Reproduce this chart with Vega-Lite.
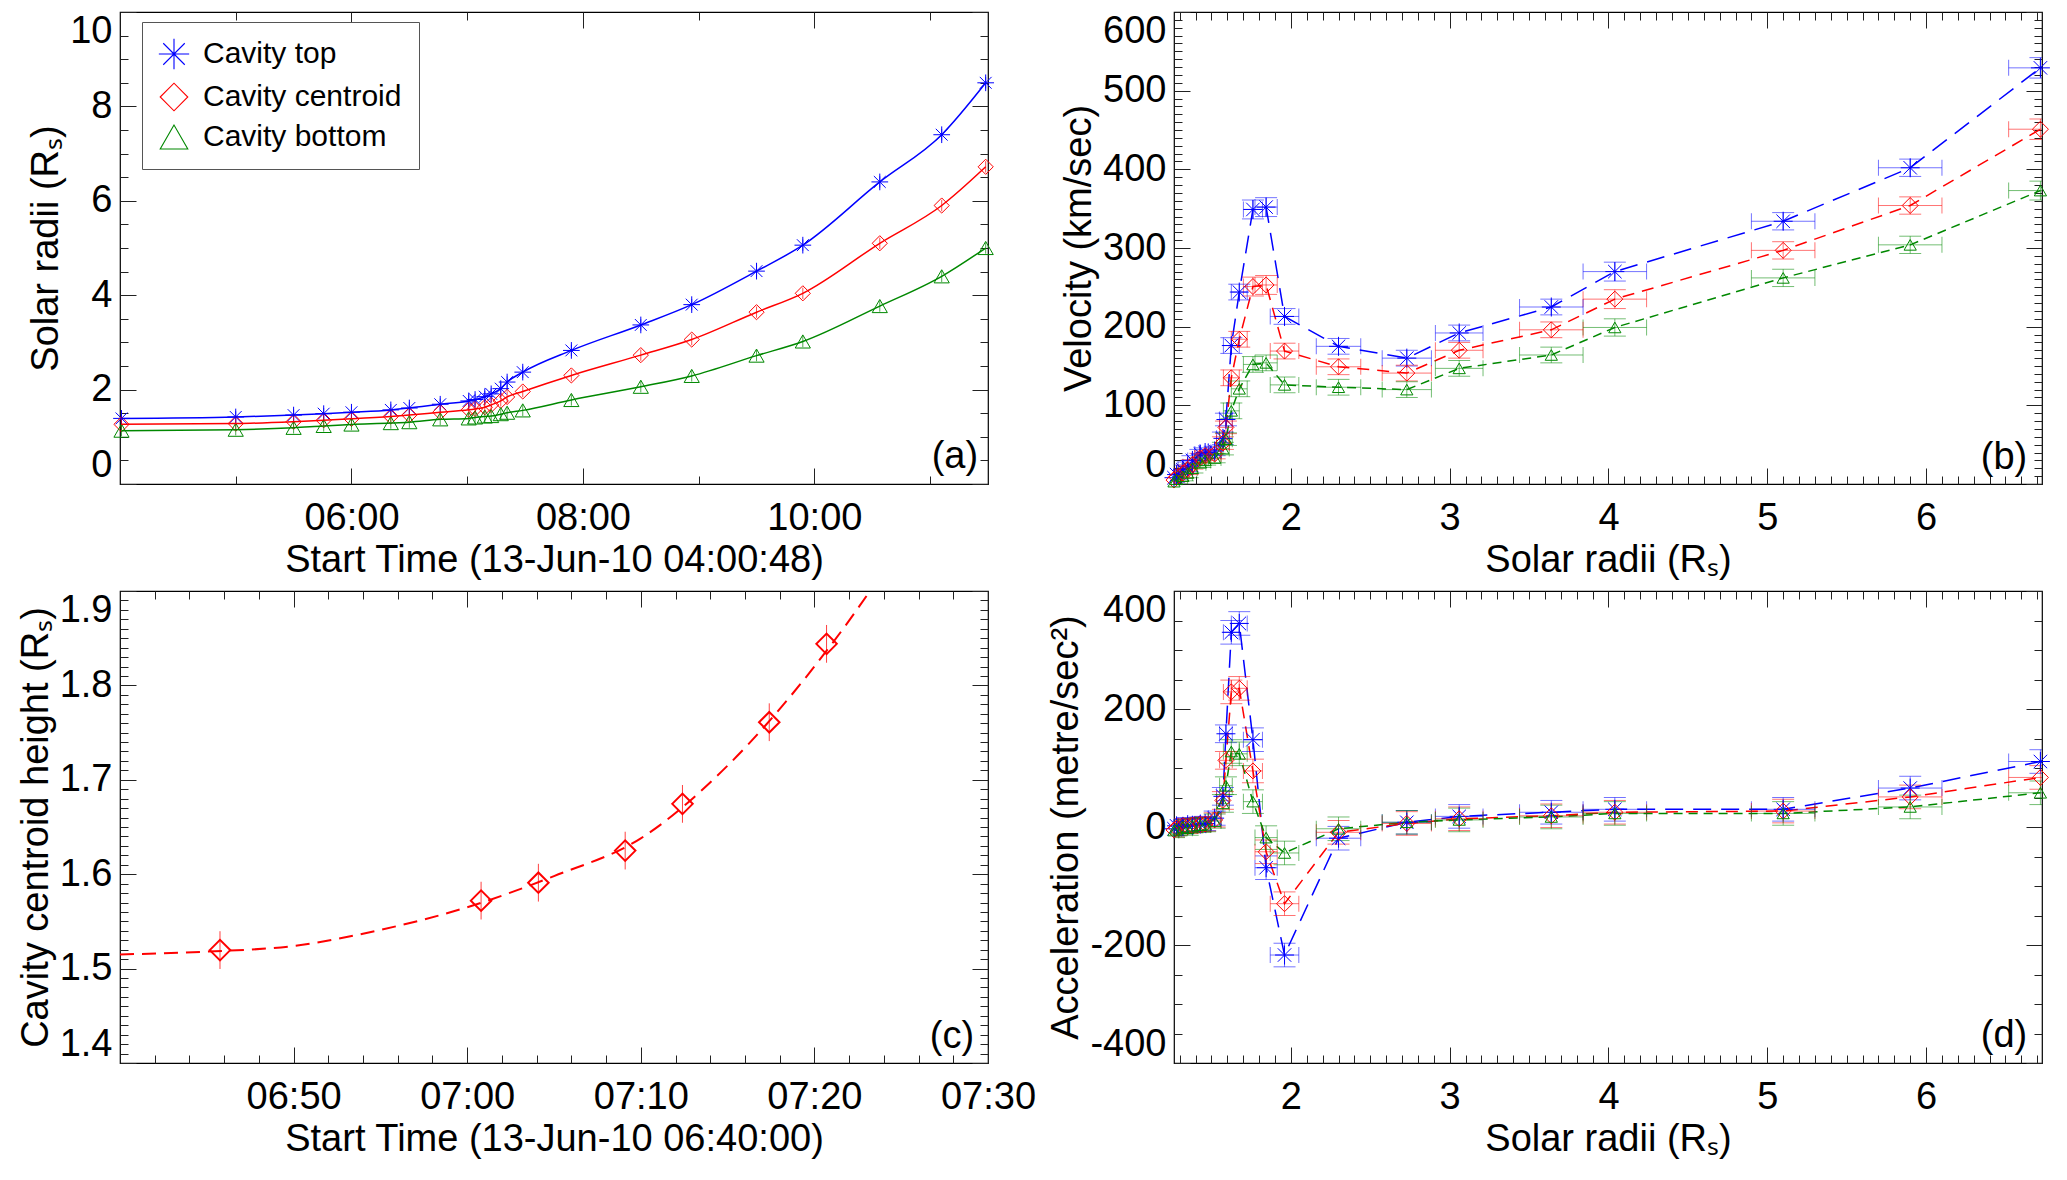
{
 "$schema": "https://vega.github.io/schema/vega-lite/v6.json",
 "background": "white",
 "padding": {"left": 16, "top": 10, "right": 0, "bottom": 0},
 "columns": 2,
 "spacing": {"row": 107, "column": 186},
 "bounds": "flush",
 "resolve": {
  "scale": {"color": "independent", "shape": "independent", "strokeDash": "independent", "size": "independent"},
  "legend": {"color": "independent", "shape": "independent", "strokeDash": "independent", "size": "independent"}
 },
 "datasets": {
  "A": [
   {"s":"Cavity top","t":4.013,"h":1.39,"e":0.12},{"s":"Cavity top","t":5.0,"h":1.42,"e":0.12},{"s":"Cavity top","t":5.5,"h":1.46,"e":0.12},{"s":"Cavity top","t":5.76,"h":1.49,"e":0.12},{"s":"Cavity top","t":6.0,"h":1.52,"e":0.12},{"s":"Cavity top","t":6.34,"h":1.57,"e":0.12},{"s":"Cavity top","t":6.5,"h":1.61,"e":0.12},{"s":"Cavity top","t":6.767,"h":1.69,"e":0.12},{"s":"Cavity top","t":7.013,"h":1.76,"e":0.12},{"s":"Cavity top","t":7.068,"h":1.79,"e":0.12},{"s":"Cavity top","t":7.152,"h":1.85,"e":0.12},{"s":"Cavity top","t":7.207,"h":1.91,"e":0.12},{"s":"Cavity top","t":7.29,"h":2.02,"e":0.12},{"s":"Cavity top","t":7.345,"h":2.16,"e":0.12},{"s":"Cavity top","t":7.48,"h":2.37,"e":0.12},{"s":"Cavity top","t":7.9,"h":2.83,"e":0.12},{"s":"Cavity top","t":8.5,"h":3.37,"e":0.12},{"s":"Cavity top","t":8.94,"h":3.8,"e":0.12},{"s":"Cavity top","t":9.5,"h":4.51,"e":0.12},{"s":"Cavity top","t":9.9,"h":5.06,"e":0.12},{"s":"Cavity top","t":10.565,"h":6.4,"e":0.12},{"s":"Cavity top","t":11.1,"h":7.4,"e":0.12},{"s":"Cavity top","t":11.48,"h":8.5,"e":0.12},
   {"s":"Cavity centroid","t":4.013,"h":1.264,"e":0.12},{"s":"Cavity centroid","t":5.0,"h":1.28,"e":0.12},{"s":"Cavity centroid","t":5.5,"h":1.32,"e":0.12},{"s":"Cavity centroid","t":5.76,"h":1.35,"e":0.12},{"s":"Cavity centroid","t":6.0,"h":1.38,"e":0.12},{"s":"Cavity centroid","t":6.34,"h":1.43,"e":0.12},{"s":"Cavity centroid","t":6.5,"h":1.46,"e":0.12},{"s":"Cavity centroid","t":6.767,"h":1.52,"e":0.12},{"s":"Cavity centroid","t":7.013,"h":1.572,"e":0.12},{"s":"Cavity centroid","t":7.068,"h":1.591,"e":0.12},{"s":"Cavity centroid","t":7.152,"h":1.625,"e":0.12},{"s":"Cavity centroid","t":7.207,"h":1.675,"e":0.12},{"s":"Cavity centroid","t":7.29,"h":1.761,"e":0.12},{"s":"Cavity centroid","t":7.345,"h":1.844,"e":0.12},{"s":"Cavity centroid","t":7.48,"h":1.96,"e":0.12},{"s":"Cavity centroid","t":7.9,"h":2.3,"e":0.12},{"s":"Cavity centroid","t":8.5,"h":2.73,"e":0.12},{"s":"Cavity centroid","t":8.94,"h":3.06,"e":0.12},{"s":"Cavity centroid","t":9.5,"h":3.64,"e":0.12},{"s":"Cavity centroid","t":9.9,"h":4.04,"e":0.12},{"s":"Cavity centroid","t":10.565,"h":5.1,"e":0.12},{"s":"Cavity centroid","t":11.1,"h":5.9,"e":0.12},{"s":"Cavity centroid","t":11.48,"h":6.72,"e":0.12},
   {"s":"Cavity bottom","t":4.013,"h":1.13,"e":0.12},{"s":"Cavity bottom","t":5.0,"h":1.15,"e":0.12},{"s":"Cavity bottom","t":5.5,"h":1.19,"e":0.12},{"s":"Cavity bottom","t":5.76,"h":1.23,"e":0.12},{"s":"Cavity bottom","t":6.0,"h":1.26,"e":0.12},{"s":"Cavity bottom","t":6.34,"h":1.29,"e":0.12},{"s":"Cavity bottom","t":6.5,"h":1.31,"e":0.12},{"s":"Cavity bottom","t":6.767,"h":1.37,"e":0.12},{"s":"Cavity bottom","t":7.013,"h":1.39,"e":0.12},{"s":"Cavity bottom","t":7.068,"h":1.41,"e":0.12},{"s":"Cavity bottom","t":7.152,"h":1.43,"e":0.12},{"s":"Cavity bottom","t":7.207,"h":1.44,"e":0.12},{"s":"Cavity bottom","t":7.29,"h":1.48,"e":0.12},{"s":"Cavity bottom","t":7.345,"h":1.51,"e":0.12},{"s":"Cavity bottom","t":7.48,"h":1.56,"e":0.12},{"s":"Cavity bottom","t":7.9,"h":1.78,"e":0.12},{"s":"Cavity bottom","t":8.5,"h":2.06,"e":0.12},{"s":"Cavity bottom","t":8.94,"h":2.29,"e":0.12},{"s":"Cavity bottom","t":9.5,"h":2.72,"e":0.12},{"s":"Cavity bottom","t":9.9,"h":3.02,"e":0.12},{"s":"Cavity bottom","t":10.565,"h":3.77,"e":0.12},{"s":"Cavity bottom","t":11.1,"h":4.4,"e":0.12},{"s":"Cavity bottom","t":11.48,"h":5.0,"e":0.12}
  ],
  "BD": [
   {"s":"Cavity top","r":1.264,"xe":0.03,"v":8,"ve":6,"a":-3,"ae":12},{"s":"Cavity top","r":1.28,"xe":0.03,"v":12,"ve":6,"a":2,"ae":12},{"s":"Cavity top","r":1.32,"xe":0.03,"v":18,"ve":6,"a":1,"ae":12},{"s":"Cavity top","r":1.35,"xe":0.03,"v":22,"ve":6,"a":4,"ae":12},{"s":"Cavity top","r":1.38,"xe":0.03,"v":30,"ve":6,"a":3,"ae":12},{"s":"Cavity top","r":1.43,"xe":0.035,"v":38,"ve":6,"a":5,"ae":12},{"s":"Cavity top","r":1.46,"xe":0.035,"v":40,"ve":6,"a":6,"ae":12},{"s":"Cavity top","r":1.52,"xe":0.04,"v":42,"ve":6,"a":15,"ae":12},{"s":"Cavity top","r":1.572,"xe":0.04,"v":58,"ve":8,"a":52,"ae":15},{"s":"Cavity top","r":1.591,"xe":0.04,"v":82,"ve":8,"a":158,"ae":15},{"s":"Cavity top","r":1.625,"xe":0.05,"v":176,"ve":10,"a":330,"ae":20},{"s":"Cavity top","r":1.675,"xe":0.05,"v":244,"ve":10,"a":345,"ae":20},{"s":"Cavity top","r":1.761,"xe":0.06,"v":349,"ve":12,"a":148,"ae":20},{"s":"Cavity top","r":1.844,"xe":0.07,"v":352,"ve":12,"a":-69,"ae":20},{"s":"Cavity top","r":1.96,"xe":0.09,"v":213,"ve":10,"a":-217,"ae":20},{"s":"Cavity top","r":2.3,"xe":0.14,"v":175,"ve":10,"a":-19,"ae":20},{"s":"Cavity top","r":2.73,"xe":0.155,"v":160,"ve":10,"a":8,"ae":20},{"s":"Cavity top","r":3.06,"xe":0.15,"v":192,"ve":10,"a":18,"ae":20},{"s":"Cavity top","r":3.64,"xe":0.2,"v":225,"ve":10,"a":25,"ae":20},{"s":"Cavity top","r":4.04,"xe":0.2,"v":270,"ve":12,"a":30,"ae":20},{"s":"Cavity top","r":5.1,"xe":0.2,"v":334,"ve":11,"a":30,"ae":20},{"s":"Cavity top","r":5.9,"xe":0.2,"v":402,"ve":11,"a":66,"ae":20},{"s":"Cavity top","r":6.72,"xe":0.2,"v":529,"ve":13,"a":111,"ae":20},
   {"s":"Cavity centroid","r":1.264,"xe":0.03,"v":5,"ve":6,"a":-5,"ae":12},{"s":"Cavity centroid","r":1.28,"xe":0.03,"v":9,"ve":6,"a":-2,"ae":12},{"s":"Cavity centroid","r":1.32,"xe":0.03,"v":14,"ve":6,"a":2,"ae":12},{"s":"Cavity centroid","r":1.35,"xe":0.03,"v":18,"ve":6,"a":1,"ae":12},{"s":"Cavity centroid","r":1.38,"xe":0.03,"v":25,"ve":6,"a":3,"ae":12},{"s":"Cavity centroid","r":1.43,"xe":0.035,"v":33,"ve":6,"a":4,"ae":12},{"s":"Cavity centroid","r":1.46,"xe":0.035,"v":36,"ve":6,"a":5,"ae":12},{"s":"Cavity centroid","r":1.52,"xe":0.04,"v":38,"ve":6,"a":12,"ae":12},{"s":"Cavity centroid","r":1.572,"xe":0.04,"v":52,"ve":8,"a":45,"ae":15},{"s":"Cavity centroid","r":1.591,"xe":0.04,"v":72,"ve":8,"a":113,"ae":15},{"s":"Cavity centroid","r":1.625,"xe":0.05,"v":135,"ve":10,"a":229,"ae":20},{"s":"Cavity centroid","r":1.675,"xe":0.05,"v":184,"ve":10,"a":235,"ae":20},{"s":"Cavity centroid","r":1.761,"xe":0.06,"v":251,"ve":12,"a":95,"ae":20},{"s":"Cavity centroid","r":1.844,"xe":0.07,"v":253,"ve":12,"a":-42,"ae":20},{"s":"Cavity centroid","r":1.96,"xe":0.09,"v":169,"ve":10,"a":-130,"ae":20},{"s":"Cavity centroid","r":2.3,"xe":0.14,"v":149,"ve":10,"a":-9,"ae":20},{"s":"Cavity centroid","r":2.73,"xe":0.155,"v":141,"ve":10,"a":6,"ae":20},{"s":"Cavity centroid","r":3.06,"xe":0.15,"v":170,"ve":10,"a":14,"ae":20},{"s":"Cavity centroid","r":3.64,"xe":0.2,"v":196,"ve":10,"a":19,"ae":20},{"s":"Cavity centroid","r":4.04,"xe":0.2,"v":235,"ve":12,"a":25,"ae":20},{"s":"Cavity centroid","r":5.1,"xe":0.2,"v":297,"ve":11,"a":27,"ae":20},{"s":"Cavity centroid","r":5.9,"xe":0.2,"v":354,"ve":11,"a":51,"ae":20},{"s":"Cavity centroid","r":6.72,"xe":0.2,"v":451,"ve":13,"a":84,"ae":20},
   {"s":"Cavity bottom","r":1.264,"xe":0.03,"v":3,"ve":6,"a":-6,"ae":12},{"s":"Cavity bottom","r":1.28,"xe":0.03,"v":6,"ve":6,"a":-3,"ae":12},{"s":"Cavity bottom","r":1.32,"xe":0.03,"v":10,"ve":6,"a":0,"ae":12},{"s":"Cavity bottom","r":1.35,"xe":0.03,"v":14,"ve":6,"a":-2,"ae":12},{"s":"Cavity bottom","r":1.38,"xe":0.03,"v":20,"ve":6,"a":2,"ae":12},{"s":"Cavity bottom","r":1.43,"xe":0.035,"v":27,"ve":6,"a":3,"ae":12},{"s":"Cavity bottom","r":1.46,"xe":0.035,"v":30,"ve":6,"a":4,"ae":12},{"s":"Cavity bottom","r":1.52,"xe":0.04,"v":33,"ve":6,"a":10,"ae":12},{"s":"Cavity bottom","r":1.572,"xe":0.04,"v":45,"ve":8,"a":40,"ae":15},{"s":"Cavity bottom","r":1.591,"xe":0.04,"v":57,"ve":8,"a":70,"ae":15},{"s":"Cavity bottom","r":1.625,"xe":0.05,"v":93,"ve":10,"a":128,"ae":20},{"s":"Cavity bottom","r":1.675,"xe":0.05,"v":121,"ve":10,"a":124,"ae":20},{"s":"Cavity bottom","r":1.761,"xe":0.06,"v":152,"ve":10,"a":43,"ae":20},{"s":"Cavity bottom","r":1.844,"xe":0.07,"v":154,"ve":10,"a":-18,"ae":20},{"s":"Cavity bottom","r":1.96,"xe":0.09,"v":126,"ve":10,"a":-44,"ae":20},{"s":"Cavity bottom","r":2.3,"xe":0.14,"v":123,"ve":10,"a":-3,"ae":20},{"s":"Cavity bottom","r":2.73,"xe":0.155,"v":120,"ve":10,"a":8,"ae":20},{"s":"Cavity bottom","r":3.06,"xe":0.15,"v":147,"ve":10,"a":12,"ae":20},{"s":"Cavity bottom","r":3.64,"xe":0.2,"v":164,"ve":10,"a":17,"ae":20},{"s":"Cavity bottom","r":4.04,"xe":0.2,"v":199,"ve":11,"a":23,"ae":20},{"s":"Cavity bottom","r":5.1,"xe":0.2,"v":262,"ve":11,"a":23,"ae":20},{"s":"Cavity bottom","r":5.9,"xe":0.2,"v":304,"ve":11,"a":34,"ae":20},{"s":"Cavity bottom","r":6.72,"xe":0.2,"v":373,"ve":12,"a":58,"ae":20}
  ],
  "C": [
   {"t":5.76,"h":1.5196,"e":0.02},{"t":20.8,"h":1.572,"e":0.02},{"t":24.1,"h":1.591,"e":0.02},{"t":29.1,"h":1.625,"e":0.02},{"t":32.4,"h":1.6745,"e":0.02},{"t":37.4,"h":1.761,"e":0.02},{"t":40.7,"h":1.844,"e":0.02}
  ],
  "CF": [
   {"t":0,"h":1.515},{"t":5,"h":1.518},{"t":10,"h":1.524},{"t":15,"h":1.541},{"t":20,"h":1.565},{"t":25,"h":1.598},{"t":30,"h":1.638},{"t":35,"h":1.715},{"t":40,"h":1.82},{"t":43.2,"h":1.9},{"t":46,"h":1.98}
  ]
 },
 "concat": [
  {
   "width": 868, "height": 472,
   "data": {"name": "A"},
   "resolve": {"axis": {"x": "independent", "y": "independent"}},
   "layer": [
    {
     "mark": {"type": "point", "filled": false, "strokeWidth": 1, "opacity": 1, "size": 230},
     "encoding": {
      "x": {"field": "t", "type": "quantitative", "scale": {"domain": [4, 11.5], "nice": false, "zero": false}, "axis": {"orient": "bottom", "values": [5, 7, 9, 11], "tickSize": -8, "labels": false, "title": null}},
      "y": {"field": "h", "type": "quantitative", "scale": {"domain": [0, 10], "nice": false, "zero": false}, "axis": {"orient": "left", "values": [0.5, 1, 1.5, 2.5, 3, 3.5, 4.5, 5, 5.5, 6.5, 7, 7.5, 8.5, 9, 9.5], "tickSize": -8, "labels": false, "title": null}},
      "color": {"field": "s", "type": "nominal", "scale": {"domain": ["Cavity top", "Cavity centroid", "Cavity bottom"], "range": ["#0000ff", "#ff0000", "#008800"]},
                "legend": {"orient": "none", "legendX": 22, "legendY": 10, "title": null, "labelFontSize": 30, "labelFont": "Liberation Sans", "labelLimit": 400, "symbolSize": 760, "symbolStrokeWidth": 1.1, "strokeColor": "#555", "fillColor": "#fff", "padding": 17, "rowPadding": 9, "labelOffset": 14}},
      "shape": {"field": "s", "type": "nominal", "scale": {"domain": ["Cavity top", "Cavity centroid", "Cavity bottom"], "range": ["M-1.1,0L1.1,0M0,-1.1L0,1.1M-0.78,-0.78L0.78,0.78M-0.78,0.78L0.78,-0.78", "diamond", "triangle-up"]},
                "legend": {"orient": "none", "legendX": 22, "legendY": 10, "title": null, "labelFontSize": 30, "labelFont": "Liberation Sans", "labelLimit": 400, "symbolSize": 760, "symbolStrokeWidth": 1.1, "strokeColor": "#555", "fillColor": "#fff", "padding": 17, "rowPadding": 9, "labelOffset": 14}}
     }
    },
    {
     "mark": {"type": "line", "interpolate": "monotone", "strokeWidth": 1.5},
     "encoding": {
      "x": {"field": "t", "type": "quantitative",
            "axis": {"orient": "bottom", "values": [6, 8, 10], "labelExpr": "(datum.value < 10 ? '0' : '') + datum.value + ':00'", "tickSize": -16, "labelPadding": 31, "labelFlush": false, "title": "Start Time (13-Jun-10 04:00:48)"}},
      "y": {"field": "h", "type": "quantitative",
            "axis": {"orient": "left", "values": [0, 2, 4, 6, 8, 10], "tickSize": -16, "labelPadding": 24, "labelFlush": true, "title": "Solar radii (Rₛ)"}},
      "color": {"field": "s", "type": "nominal", "scale": {"domain": ["Cavity top", "Cavity centroid", "Cavity bottom"], "range": ["#0000ff", "#ff0000", "#008800"]}, "legend": null}
     }
    },
    {
     "mark": {"type": "errorbar", "ticks": false, "thickness": 1, "opacity": 0.7},
     "encoding": {
      "x": {"field": "t", "type": "quantitative", "axis": null},
      "y": {"field": "h", "type": "quantitative", "axis": null},
      "yError": {"field": "e"},
      "color": {"field": "s", "type": "nominal", "scale": {"domain": ["Cavity top", "Cavity centroid", "Cavity bottom"], "range": ["#0000ff", "#ff0000", "#008800"]}, "legend": null}
     }
    },
    {
     "mark": {"type": "point", "opacity": 0},
     "encoding": {
      "x": {"field": "t", "type": "quantitative", "axis": {"orient": "top", "values": [6, 8, 10], "tickSize": -16, "labels": false, "title": null}},
      "y": {"field": "h", "type": "quantitative", "axis": {"orient": "right", "values": [0, 2, 4, 6, 8, 10], "tickSize": -16, "labels": false, "title": null}}
     }
    },
    {
     "mark": {"type": "point", "opacity": 0},
     "encoding": {
      "x": {"field": "t", "type": "quantitative", "axis": {"orient": "top", "values": [5, 7, 9, 11], "tickSize": -8, "labels": false, "title": null}},
      "y": {"field": "h", "type": "quantitative", "axis": {"orient": "right", "values": [0.5, 1, 1.5, 2.5, 3, 3.5, 4.5, 5, 5.5, 6.5, 7, 7.5, 8.5, 9, 9.5], "tickSize": -8, "labels": false, "title": null}}
     }
    },
    {
     "data": {"values": [{"label": "(a)"}]},
     "mark": {"type": "text", "align": "right", "baseline": "alphabetic", "fontSize": 38, "font": "Liberation Sans"},
     "encoding": {
      "x": {"datum": 11.415, "type": "quantitative", "axis": null},
      "y": {"datum": 0.33, "type": "quantitative", "axis": null},
      "text": {"field": "label"}
     }
    }
   ]
  },
  {
   "width": 868, "height": 472,
   "data": {"name": "BD"},
   "resolve": {"axis": {"x": "independent", "y": "independent"}},
   "layer": [
    {
     "mark": {"type": "line", "strokeWidth": 1.5},
     "encoding": {
      "x": {"field": "r", "type": "quantitative", "scale": {"domain": [1.264, 6.73], "nice": false, "zero": false},
            "axis": {"orient": "bottom", "values": [2, 3, 4, 5, 6], "tickSize": -16, "labelPadding": 31, "labelFlush": false, "title": "Solar radii (Rₛ)"}},
      "y": {"field": "v", "type": "quantitative", "scale": {"domain": [0, 600], "nice": false, "zero": false},
            "axis": {"orient": "left", "values": [0, 100, 200, 300, 400, 500, 600], "tickSize": -16, "labelPadding": 24, "labelFlush": true, "title": "Velocity (km/sec)"}},
      "color": {"field": "s", "type": "nominal", "scale": {"domain": ["Cavity top", "Cavity centroid", "Cavity bottom"], "range": ["#0000ff", "#ff0000", "#008800"]}, "legend": null},
      "strokeDash": {"field": "s", "type": "nominal", "scale": {"domain": ["Cavity top", "Cavity centroid", "Cavity bottom"], "range": [[18, 10], [12, 8], [9, 6]]}, "legend": null}
     }
    },
    {
     "mark": {"type": "errorbar", "ticks": true, "size": 16, "thickness": 1, "opacity": 0.55, "clip": true},
     "encoding": {
      "x": {"field": "r", "type": "quantitative", "axis": null},
      "xError": {"field": "xe"},
      "y": {"field": "v", "type": "quantitative", "axis": null},
      "color": {"field": "s", "type": "nominal", "scale": {"domain": ["Cavity top", "Cavity centroid", "Cavity bottom"], "range": ["#0000ff", "#ff0000", "#008800"]}, "legend": null}
     }
    },
    {
     "mark": {"type": "errorbar", "ticks": true, "size": 22, "thickness": 1, "opacity": 0.55, "clip": true},
     "encoding": {
      "x": {"field": "r", "type": "quantitative", "axis": null},
      "y": {"field": "v", "type": "quantitative", "axis": null},
      "yError": {"field": "ve"},
      "color": {"field": "s", "type": "nominal", "scale": {"domain": ["Cavity top", "Cavity centroid", "Cavity bottom"], "range": ["#0000ff", "#ff0000", "#008800"]}, "legend": null}
     }
    },
    {
     "mark": {"type": "point", "filled": false, "strokeWidth": 1, "opacity": 1},
     "encoding": {
      "x": {"field": "r", "type": "quantitative", "axis": {"orient": "bottom", "values": [1.3,1.4,1.5,1.6,1.7,1.8,1.9,2.1,2.2,2.3,2.4,2.5,2.6,2.7,2.8,2.9,3.1,3.2,3.3,3.4,3.5,3.6,3.7,3.8,3.9,4.1,4.2,4.3,4.4,4.5,4.6,4.7,4.8,4.9,5.1,5.2,5.3,5.4,5.5,5.6,5.7,5.8,5.9,6.1,6.2,6.3,6.4,6.5,6.6,6.7], "tickSize": -8, "labels": false, "title": null}},
      "y": {"field": "v", "type": "quantitative", "axis": {"orient": "left", "values": [10,20,30,40,50,60,70,80,90,110,120,130,140,150,160,170,180,190,210,220,230,240,250,260,270,280,290,310,320,330,340,350,360,370,380,390,410,420,430,440,450,460,470,480,490,510,520,530,540,550,560,570,580,590], "tickSize": -8, "labels": false, "title": null}},
      "color": {"field": "s", "type": "nominal", "scale": {"domain": ["Cavity top", "Cavity centroid", "Cavity bottom"], "range": ["#0000ff", "#ff0000", "#008800"]}, "legend": null},
      "shape": {"field": "s", "type": "nominal", "scale": {"domain": ["Cavity top", "Cavity centroid", "Cavity bottom"], "range": ["M-1,0L1,0M0,-1L0,1M-0.71,-0.71L0.71,0.71M-0.71,0.71L0.71,-0.71", "diamond", "triangle-up"]}, "legend": null},
      "size": {"field": "s", "type": "nominal", "scale": {"domain": ["Cavity top", "Cavity centroid", "Cavity bottom"], "range": [360, 150, 130]}, "legend": null}
     }
    },
    {
     "mark": {"type": "point", "opacity": 0},
     "encoding": {
      "x": {"field": "r", "type": "quantitative", "axis": {"orient": "top", "values": [2, 3, 4, 5, 6], "tickSize": -16, "labels": false, "title": null}},
      "y": {"field": "v", "type": "quantitative", "axis": {"orient": "right", "values": [0, 100, 200, 300, 400, 500, 600], "tickSize": -16, "labels": false, "title": null}}
     }
    },
    {
     "mark": {"type": "point", "opacity": 0},
     "encoding": {
      "x": {"field": "r", "type": "quantitative", "axis": {"orient": "top", "values": [1.3,1.4,1.5,1.6,1.7,1.8,1.9,2.1,2.2,2.3,2.4,2.5,2.6,2.7,2.8,2.9,3.1,3.2,3.3,3.4,3.5,3.6,3.7,3.8,3.9,4.1,4.2,4.3,4.4,4.5,4.6,4.7,4.8,4.9,5.1,5.2,5.3,5.4,5.5,5.6,5.7,5.8,5.9,6.1,6.2,6.3,6.4,6.5,6.6,6.7], "tickSize": -8, "labels": false, "title": null}},
      "y": {"field": "v", "type": "quantitative", "axis": {"orient": "right", "values": [10,20,30,40,50,60,70,80,90,110,120,130,140,150,160,170,180,190,210,220,230,240,250,260,270,280,290,310,320,330,340,350,360,370,380,390,410,420,430,440,450,460,470,480,490,510,520,530,540,550,560,570,580,590], "tickSize": -8, "labels": false, "title": null}}
     }
    },
    {
     "data": {"values": [{"label": "(b)"}]},
     "mark": {"type": "text", "align": "right", "baseline": "alphabetic", "fontSize": 38, "font": "Liberation Sans"},
     "encoding": {
      "x": {"datum": 6.637, "type": "quantitative", "axis": null},
      "y": {"datum": 19.7, "type": "quantitative", "axis": null},
      "text": {"field": "label"}
     }
    }
   ]
  },
  {
   "width": 868, "height": 472,
   "data": {"name": "C"},
   "resolve": {"axis": {"x": "independent", "y": "independent"}},
   "layer": [
    {
     "data": {"name": "CF"},
     "mark": {"type": "line", "interpolate": "monotone", "strokeWidth": 2, "strokeDash": [14, 8], "color": "#ff0000", "clip": true},
     "encoding": {
      "x": {"field": "t", "type": "quantitative", "scale": {"domain": [0, 50], "nice": false, "zero": false},
            "axis": {"orient": "bottom", "values": [10, 20, 30, 40, 50], "labelExpr": "timeFormat(datetime(2010, 5, 13, 6, 40 + datum.value), '%H:%M')", "tickSize": -16, "labelPadding": 31, "labelFlush": false, "title": "Start Time (13-Jun-10 06:40:00)"}},
      "y": {"field": "h", "type": "quantitative", "scale": {"domain": [1.4, 1.9], "nice": false, "zero": false},
            "axis": {"orient": "left", "values": [1.4, 1.5, 1.6, 1.7, 1.8, 1.9], "format": ".1f", "tickSize": -16, "labelPadding": 24, "labelFlush": true, "title": "Cavity centroid height (Rₛ)"}}
     }
    },
    {
     "mark": {"type": "errorbar", "ticks": false, "thickness": 1, "color": "#ff0000", "opacity": 0.75},
     "encoding": {
      "x": {"field": "t", "type": "quantitative", "axis": null},
      "y": {"field": "h", "type": "quantitative", "axis": null},
      "yError": {"field": "e"}
     }
    },
    {
     "mark": {"type": "point", "shape": "diamond", "filled": false, "size": 420, "strokeWidth": 2, "color": "#ff0000", "opacity": 1},
     "encoding": {
      "x": {"field": "t", "type": "quantitative", "axis": {"orient": "bottom", "values": [2,4,6,8,12,14,16,18,22,24,26,28,32,34,36,38,42,44,46,48], "tickSize": -8, "labels": false, "title": null}},
      "y": {"field": "h", "type": "quantitative", "axis": {"orient": "left", "values": [1.41,1.42,1.43,1.44,1.45,1.46,1.47,1.48,1.49,1.51,1.52,1.53,1.54,1.55,1.56,1.57,1.58,1.59,1.61,1.62,1.63,1.64,1.65,1.66,1.67,1.68,1.69,1.71,1.72,1.73,1.74,1.75,1.76,1.77,1.78,1.79,1.81,1.82,1.83,1.84,1.85,1.86,1.87,1.88,1.89], "tickSize": -8, "labels": false, "title": null}}
     }
    },
    {
     "mark": {"type": "point", "opacity": 0},
     "encoding": {
      "x": {"field": "t", "type": "quantitative", "axis": {"orient": "top", "values": [10, 20, 30, 40, 50], "tickSize": -16, "labels": false, "title": null}},
      "y": {"field": "h", "type": "quantitative", "axis": {"orient": "right", "values": [1.4, 1.5, 1.6, 1.7, 1.8, 1.9], "tickSize": -16, "labels": false, "title": null}}
     }
    },
    {
     "mark": {"type": "point", "opacity": 0},
     "encoding": {
      "x": {"field": "t", "type": "quantitative", "axis": {"orient": "top", "values": [2,4,6,8,12,14,16,18,22,24,26,28,32,34,36,38,42,44,46,48], "tickSize": -8, "labels": false, "title": null}},
      "y": {"field": "h", "type": "quantitative", "axis": {"orient": "right", "values": [1.41,1.42,1.43,1.44,1.45,1.46,1.47,1.48,1.49,1.51,1.52,1.53,1.54,1.55,1.56,1.57,1.58,1.59,1.61,1.62,1.63,1.64,1.65,1.66,1.67,1.68,1.69,1.71,1.72,1.73,1.74,1.75,1.76,1.77,1.78,1.79,1.81,1.82,1.83,1.84,1.85,1.86,1.87,1.88,1.89], "tickSize": -8, "labels": false, "title": null}}
     }
    },
    {
     "data": {"values": [{"label": "(c)"}]},
     "mark": {"type": "text", "align": "right", "baseline": "alphabetic", "fontSize": 38, "font": "Liberation Sans"},
     "encoding": {
      "x": {"datum": 49.2, "type": "quantitative", "axis": null},
      "y": {"datum": 1.4164, "type": "quantitative", "axis": null},
      "text": {"field": "label"}
     }
    }
   ]
  },
  {
   "width": 868, "height": 472,
   "data": {"name": "BD"},
   "resolve": {"axis": {"x": "independent", "y": "independent"}},
   "layer": [
    {
     "mark": {"type": "line", "strokeWidth": 1.5},
     "encoding": {
      "x": {"field": "r", "type": "quantitative", "scale": {"domain": [1.264, 6.73], "nice": false, "zero": false},
            "axis": {"orient": "bottom", "values": [2, 3, 4, 5, 6], "tickSize": -16, "labelPadding": 31, "labelFlush": false, "title": "Solar radii (Rₛ)"}},
      "y": {"field": "a", "type": "quantitative", "scale": {"domain": [-400, 400], "nice": false, "zero": false},
            "axis": {"orient": "left", "values": [-400, -200, 0, 200, 400], "labelExpr": "'' + datum.value", "tickSize": -16, "labelPadding": 24, "labelFlush": true, "title": "Acceleration (metre/sec²)"}},
      "color": {"field": "s", "type": "nominal", "scale": {"domain": ["Cavity top", "Cavity centroid", "Cavity bottom"], "range": ["#0000ff", "#ff0000", "#008800"]}, "legend": null},
      "strokeDash": {"field": "s", "type": "nominal", "scale": {"domain": ["Cavity top", "Cavity centroid", "Cavity bottom"], "range": [[18, 10], [12, 8], [9, 6]]}, "legend": null}
     }
    },
    {
     "mark": {"type": "errorbar", "ticks": true, "size": 16, "thickness": 1, "opacity": 0.55, "clip": true},
     "encoding": {
      "x": {"field": "r", "type": "quantitative", "axis": null},
      "xError": {"field": "xe"},
      "y": {"field": "a", "type": "quantitative", "axis": null},
      "color": {"field": "s", "type": "nominal", "scale": {"domain": ["Cavity top", "Cavity centroid", "Cavity bottom"], "range": ["#0000ff", "#ff0000", "#008800"]}, "legend": null}
     }
    },
    {
     "mark": {"type": "errorbar", "ticks": true, "size": 22, "thickness": 1, "opacity": 0.55, "clip": true},
     "encoding": {
      "x": {"field": "r", "type": "quantitative", "axis": null},
      "y": {"field": "a", "type": "quantitative", "axis": null},
      "yError": {"field": "ae"},
      "color": {"field": "s", "type": "nominal", "scale": {"domain": ["Cavity top", "Cavity centroid", "Cavity bottom"], "range": ["#0000ff", "#ff0000", "#008800"]}, "legend": null}
     }
    },
    {
     "mark": {"type": "point", "filled": false, "strokeWidth": 1, "opacity": 1},
     "encoding": {
      "x": {"field": "r", "type": "quantitative", "axis": {"orient": "bottom", "values": [1.3,1.4,1.5,1.6,1.7,1.8,1.9,2.1,2.2,2.3,2.4,2.5,2.6,2.7,2.8,2.9,3.1,3.2,3.3,3.4,3.5,3.6,3.7,3.8,3.9,4.1,4.2,4.3,4.4,4.5,4.6,4.7,4.8,4.9,5.1,5.2,5.3,5.4,5.5,5.6,5.7,5.8,5.9,6.1,6.2,6.3,6.4,6.5,6.6,6.7], "tickSize": -8, "labels": false, "title": null}},
      "y": {"field": "a", "type": "quantitative", "axis": {"orient": "left", "values": [-350, -300, -250, -150, -100, -50, 50, 100, 150, 250, 300, 350], "tickSize": -8, "labels": false, "title": null}},
      "color": {"field": "s", "type": "nominal", "scale": {"domain": ["Cavity top", "Cavity centroid", "Cavity bottom"], "range": ["#0000ff", "#ff0000", "#008800"]}, "legend": null},
      "shape": {"field": "s", "type": "nominal", "scale": {"domain": ["Cavity top", "Cavity centroid", "Cavity bottom"], "range": ["M-1,0L1,0M0,-1L0,1M-0.71,-0.71L0.71,0.71M-0.71,0.71L0.71,-0.71", "diamond", "triangle-up"]}, "legend": null},
      "size": {"field": "s", "type": "nominal", "scale": {"domain": ["Cavity top", "Cavity centroid", "Cavity bottom"], "range": [360, 150, 130]}, "legend": null}
     }
    },
    {
     "mark": {"type": "point", "opacity": 0},
     "encoding": {
      "x": {"field": "r", "type": "quantitative", "axis": {"orient": "top", "values": [2, 3, 4, 5, 6], "tickSize": -16, "labels": false, "title": null}},
      "y": {"field": "a", "type": "quantitative", "axis": {"orient": "right", "values": [-400, -200, 0, 200, 400], "tickSize": -16, "labels": false, "title": null}}
     }
    },
    {
     "mark": {"type": "point", "opacity": 0},
     "encoding": {
      "x": {"field": "r", "type": "quantitative", "axis": {"orient": "top", "values": [1.3,1.4,1.5,1.6,1.7,1.8,1.9,2.1,2.2,2.3,2.4,2.5,2.6,2.7,2.8,2.9,3.1,3.2,3.3,3.4,3.5,3.6,3.7,3.8,3.9,4.1,4.2,4.3,4.4,4.5,4.6,4.7,4.8,4.9,5.1,5.2,5.3,5.4,5.5,5.6,5.7,5.8,5.9,6.1,6.2,6.3,6.4,6.5,6.6,6.7], "tickSize": -8, "labels": false, "title": null}},
      "y": {"field": "a", "type": "quantitative", "axis": {"orient": "right", "values": [-350, -300, -250, -150, -100, -50, 50, 100, 150, 250, 300, 350], "tickSize": -8, "labels": false, "title": null}}
     }
    },
    {
     "data": {"values": [{"label": "(d)"}]},
     "mark": {"type": "text", "align": "right", "baseline": "alphabetic", "fontSize": 38, "font": "Liberation Sans"},
     "encoding": {
      "x": {"datum": 6.637, "type": "quantitative", "axis": null},
      "y": {"datum": -373.7, "type": "quantitative", "axis": null},
      "text": {"field": "label"}
     }
    }
   ]
  }
 ],
 "config": {
  "font": "Liberation Sans",
  "view": {"stroke": "#000", "strokeWidth": 1.2},
  "legend": {"symbolSize": 760},
  "axis": {"labelFont": "Liberation Sans", "labelFontSize": 38, "titleFont": "Liberation Sans", "titleFontSize": 38, "titleFontWeight": "normal", "labelColor": "#000", "titleColor": "#000", "tickColor": "#222", "tickWidth": 1, "domain": false, "grid": false, "titlePadding": 4, "labelOverlap": false}
 }
}
